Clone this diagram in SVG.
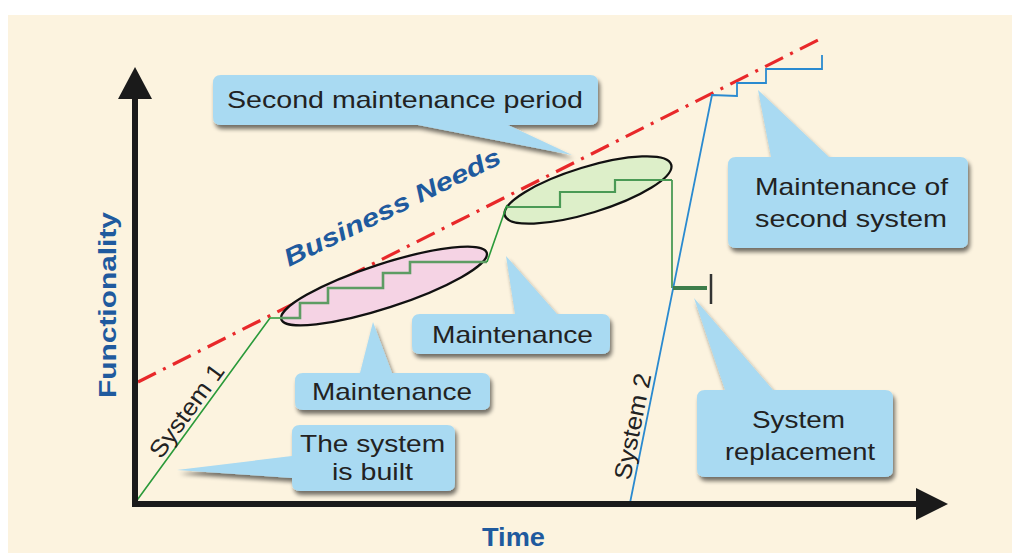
<svg xmlns="http://www.w3.org/2000/svg" width="1012" height="553" viewBox="0 0 1012 553">
<style>
.lbl{font-family:"Liberation Sans",Arial,sans-serif;font-size:24px;fill:#222;}
.blue{font-family:"Liberation Sans",Arial,sans-serif;font-weight:bold;fill:#1f5a9e;}
.box{fill:#A9DAF2;filter:url(#sh);}
.axis{stroke:#1a1a1a;stroke-width:6;fill:none;}
</style>
<defs>
<filter id="sh" x="-20%" y="-20%" width="140%" height="150%">
<feGaussianBlur in="SourceAlpha" stdDeviation="2"/>
<feOffset dx="2" dy="4" result="o"/>
<feComponentTransfer><feFuncA type="linear" slope="0.55"/></feComponentTransfer>
<feMerge><feMergeNode/><feMergeNode in="SourceGraphic"/></feMerge>
</filter>
</defs>
<rect x="0" y="0" width="1012" height="553" fill="#ffffff"/>
<rect x="8" y="15" width="1004" height="538" fill="#FCF3DF"/>

<g id="connectors">
<!-- business needs line -->
<line x1="138" y1="382" x2="822" y2="38" stroke="#E8282A" stroke-width="3.2" stroke-dasharray="20 8 3 8"/>
<!-- ellipses -->
<ellipse cx="384" cy="286" rx="108" ry="22" transform="rotate(-18 384 286)" fill="#F5D3E4" stroke="#111" stroke-width="2.3"/>
<ellipse cx="588" cy="190" rx="87" ry="23" transform="rotate(-17 588 190)" fill="#DDEFC9" stroke="#111" stroke-width="2.3"/>
<!-- system 1 path -->
<path d="M135,503 L270,318 L300,318" fill="none" stroke="#2a9a3a" stroke-width="1.6"/>
<path d="M280,318 H300 V303 H328 V288 H383 V273 H410 V262 H487" fill="none" stroke="#5d9c63" stroke-width="2.6"/>
<path d="M487,262 L507,205" fill="none" stroke="#2a9a3a" stroke-width="1.6"/>
<path d="M507,207 H560 V192 H615 V180 H672" fill="none" stroke="#4a9a55" stroke-width="2.2"/>
<path d="M672,180 V288" fill="none" stroke="#4a9a55" stroke-width="1.8"/>
<!-- system 2 path -->
<path d="M630,503 L712,95 L737,96 V83 H766 V69 H822 V55" fill="none" stroke="#2a8ad0" stroke-width="1.8"/>
<!-- replacement bracket -->
<line x1="673" y1="288" x2="707" y2="288" stroke="#3d7d4a" stroke-width="4"/>
<line x1="711" y1="274" x2="711" y2="304" stroke="#333" stroke-width="2.5"/>
<!-- axes -->
<line class="axis" x1="135" y1="507" x2="135" y2="95"/>
<polygon points="135,67 152,99 118,99" fill="#1a1a1a"/>
<line class="axis" x1="132" y1="504" x2="920" y2="504"/>
<polygon points="948,504 916,488 916,520" fill="#1a1a1a"/>
</g>

<g id="axis-labels">
<text class="blue" font-size="24" transform="translate(116,398) rotate(-90)" textLength="186" lengthAdjust="spacingAndGlyphs">Functionality</text>
<text class="blue" font-size="25" x="482" y="546" textLength="63" lengthAdjust="spacingAndGlyphs">Time</text>
<text class="blue" font-size="25" font-style="italic" transform="translate(289,267) rotate(-26)" textLength="238" lengthAdjust="spacingAndGlyphs">Business Needs</text>
<text class="lbl" font-size="22" transform="translate(161,460) rotate(-54)" textLength="110" lengthAdjust="spacingAndGlyphs">System 1</text>
<text class="lbl" font-size="22" transform="translate(630,481) rotate(-78.6)" textLength="108" lengthAdjust="spacingAndGlyphs">System 2</text>
</g>

<g id="callout-second-period">
<path class="box" d="M221,75 H590 Q598,75 598,83 V117 Q598,125 590,125 H508 L572,155 L418,125 H221 Q213,125 213,117 V83 Q213,75 221,75 Z"/>
<text class="lbl" x="227" y="108" textLength="356" lengthAdjust="spacingAndGlyphs">Second maintenance period</text>
</g>

<g id="callout-second-system">
<path class="box" d="M736,157 H771 L758,90 L829,157 H960 Q968,157 968,165 V240 Q968,248 960,248 H736 Q728,248 728,240 V165 Q728,157 736,157 Z"/>
<text class="lbl" x="755" y="195" textLength="193" lengthAdjust="spacingAndGlyphs">Maintenance of</text>
<text class="lbl" x="755" y="227" textLength="192" lengthAdjust="spacingAndGlyphs">second system</text>
</g>

<g id="callout-maintenance-2">
<path class="box" d="M420,314 H515 L506,256 L557,314 H602 Q610,314 610,322 V346 Q610,354 602,354 H420 Q412,354 412,346 V322 Q412,314 420,314 Z"/>
<text class="lbl" x="432" y="343" textLength="161" lengthAdjust="spacingAndGlyphs">Maintenance</text>
</g>

<g id="callout-maintenance-1">
<path class="box" d="M303,373 H360 L373,322 L392,373 H482 Q490,373 490,381 V402 Q490,410 482,410 H303 Q295,410 295,402 V381 Q295,373 303,373 Z"/>
<text class="lbl" x="312" y="400" textLength="160" lengthAdjust="spacingAndGlyphs">Maintenance</text>
</g>

<g id="callout-built">
<path class="box" d="M300,425 H447 Q455,425 455,433 V483 Q455,491 447,491 H300 Q292,491 292,483 V478 L177,470 L292,456 V433 Q292,425 300,425 Z"/>
<text class="lbl" x="300" y="452" textLength="145" lengthAdjust="spacingAndGlyphs">The system</text>
<text class="lbl" x="332" y="480" textLength="81" lengthAdjust="spacingAndGlyphs">is built</text>
</g>

<g id="callout-replacement">
<path class="box" d="M705,390 H725 L694,298 L773,390 H885 Q893,390 893,398 V469 Q893,477 885,477 H705 Q697,477 697,469 V398 Q697,390 705,390 Z"/>
<text class="lbl" x="752" y="428" textLength="93" lengthAdjust="spacingAndGlyphs">System</text>
<text class="lbl" x="725" y="460" textLength="150" lengthAdjust="spacingAndGlyphs">replacement</text>
</g>
</svg>
